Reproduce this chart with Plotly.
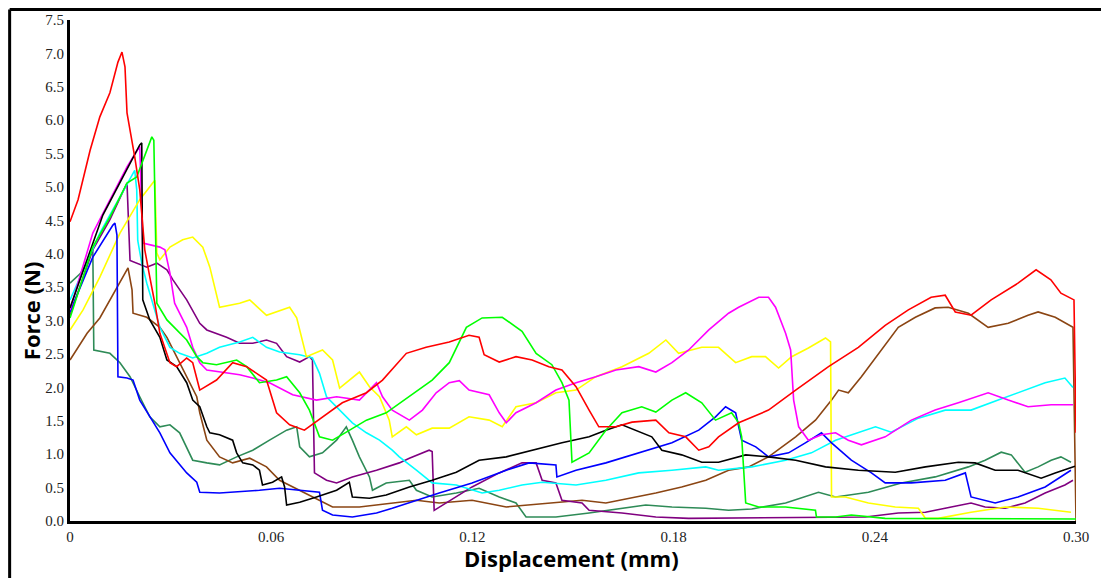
import plotly.graph_objects as go

# Force-displacement curves for ten specimens (displacement in mm, force in N)
RED_X = [0.000, 0.0024, 0.0060, 0.0089, 0.0119, 0.0143, 0.0155, 0.0164, 0.0170, 0.0185, 0.0193, 0.0208,
         0.0223, 0.0238, 0.0253, 0.0268, 0.0298, 0.0318, 0.0348, 0.0366, 0.0387, 0.0437, 0.0485, 0.0527,
         0.0586, 0.0616, 0.0655, 0.0699, 0.0753, 0.0812, 0.0884, 0.0932, 0.1003, 0.1062, 0.1131, 0.1190,
         0.1220, 0.1235, 0.1280, 0.1330, 0.1378, 0.1428, 0.1467, 0.1509, 0.1548, 0.1577, 0.1628, 0.1676,
         0.1747, 0.1786, 0.1836, 0.1875, 0.1905, 0.1934, 0.1994, 0.2083, 0.2164, 0.2262, 0.2351, 0.2431,
         0.2500, 0.2568, 0.2610, 0.2640, 0.2687, 0.2747, 0.2827, 0.2881, 0.2925, 0.2955, 0.2994, 0.3000]
RED_Y = [4.48, 4.81, 5.55, 6.05, 6.41, 6.87, 7.02, 6.80, 6.11, 5.70, 5.45, 4.96,
         4.06, 3.65, 3.26, 2.81, 2.37, 2.31, 2.44, 2.37, 1.96, 2.11, 2.37, 2.31,
         2.11, 1.62, 1.44, 1.36, 1.56, 1.77, 1.92, 2.11, 2.51, 2.60, 2.68, 2.78,
         2.75, 2.49, 2.38, 2.46, 2.41, 2.31, 2.26, 2.01, 1.66, 1.41, 1.41, 1.48,
         1.51, 1.32, 1.26, 1.06, 1.11, 1.26, 1.47, 1.66, 1.96, 2.31, 2.60, 2.93,
         3.16, 3.35, 3.38, 3.13, 3.08, 3.31, 3.56, 3.76, 3.61, 3.41, 3.31, 1.32]

GREEN_X = [0.000, 0.0068, 0.0119, 0.0170, 0.0199, 0.0244, 0.0250, 0.0259, 0.0289, 0.0348, 0.0378, 0.0396,
           0.0437, 0.0497, 0.0527, 0.0565, 0.0616, 0.0646, 0.0685, 0.0714, 0.0744, 0.0783, 0.0824, 0.0884,
           0.0943, 0.1012, 0.1080, 0.1131, 0.1182, 0.1229, 0.1289, 0.1348, 0.1390, 0.1437, 0.1467, 0.1488,
           0.1497, 0.1548, 0.1598, 0.1646, 0.1705, 0.1747, 0.1795, 0.1836, 0.1884, 0.1925, 0.1973, 0.1994,
           0.2003, 0.2015, 0.2054, 0.2134, 0.2223, 0.2226, 0.2283, 0.2330, 0.2431, 0.3000]
GREEN_Y = [3.04, 4.10, 4.55, 5.06, 5.15, 5.75, 5.70, 3.26, 3.01, 2.71, 2.46, 2.37,
           2.34, 2.41, 2.31, 2.07, 2.11, 2.16, 1.92, 1.66, 1.26, 1.21, 1.33, 1.51,
           1.62, 1.86, 2.11, 2.37, 2.90, 3.04, 3.05, 2.84, 2.51, 2.34, 2.07, 1.81,
           0.88, 1.02, 1.36, 1.62, 1.71, 1.63, 1.81, 1.92, 1.77, 1.51, 1.62, 1.47,
           1.26, 0.27, 0.21, 0.21, 0.16, 0.06, 0.06, 0.09, 0.04, 0.03]

BLACK_X = [0.000, 0.0098, 0.0208, 0.0214, 0.0217, 0.0238, 0.0268, 0.0289, 0.0318, 0.0348, 0.0366, 0.0387,
           0.0408, 0.0417, 0.0446, 0.0485, 0.0497, 0.0515, 0.0545, 0.0565, 0.0574, 0.0604, 0.0631, 0.0640,
           0.0646, 0.0685, 0.0735, 0.0795, 0.0833, 0.0842, 0.0893, 0.0943, 0.1012, 0.1080, 0.1152, 0.1220,
           0.1301, 0.1378, 0.1467, 0.1548, 0.1598, 0.1646, 0.1687, 0.1735, 0.1765, 0.1824, 0.1884, 0.1934,
           0.2015, 0.2083, 0.2164, 0.2253, 0.2351, 0.2461, 0.2551, 0.2649, 0.2699, 0.2759, 0.2827, 0.2896,
           0.2938, 0.2997]
BLACK_Y = [3.19, 4.58, 5.63, 5.66, 3.31, 3.01, 2.75, 2.41, 2.31, 2.07, 1.81, 1.71,
           1.41, 1.32, 1.29, 1.21, 1.02, 0.87, 0.84, 0.76, 0.54, 0.58, 0.66, 0.51,
           0.24, 0.28, 0.36, 0.46, 0.58, 0.36, 0.34, 0.39, 0.51, 0.61, 0.73, 0.91,
           0.96, 1.06, 1.17, 1.26, 1.36, 1.44, 1.36, 1.26, 1.06, 0.99, 0.88, 0.88,
           0.99, 0.96, 0.91, 0.81, 0.76, 0.73, 0.81, 0.88, 0.87, 0.76, 0.76, 0.64,
           0.72, 0.82]

MAGENTA_X = [0.000, 0.0068, 0.0170, 0.0202, 0.0208, 0.0217, 0.0247, 0.0268, 0.0283, 0.0298, 0.0312, 0.0348,
             0.0366, 0.0387, 0.0408, 0.0446, 0.0506, 0.0545, 0.0595, 0.0664, 0.0735, 0.0795, 0.0863, 0.0914,
             0.0932, 0.0961, 0.1012, 0.1051, 0.1092, 0.1131, 0.1161, 0.1190, 0.1250, 0.1280, 0.1301, 0.1330,
             0.1390, 0.1449, 0.1509, 0.1568, 0.1628, 0.1696, 0.1747, 0.1795, 0.1845, 0.1905, 0.1964, 0.1994,
             0.2054, 0.2083, 0.2104, 0.2134, 0.2149, 0.2158, 0.2173, 0.2202, 0.2241, 0.2283, 0.2321, 0.2360,
             0.2431, 0.2509, 0.2580, 0.2649, 0.2738, 0.2798, 0.2857, 0.2926, 0.2991]
MAGENTA_Y = [3.16, 4.31, 5.30, 5.58, 5.61, 4.16, 4.13, 4.10, 4.06, 3.71, 3.26, 2.90,
             2.60, 2.37, 2.26, 2.23, 2.19, 2.14, 2.07, 1.89, 1.81, 1.86, 1.81, 2.07,
             1.86, 1.66, 1.51, 1.66, 1.92, 2.07, 2.10, 1.96, 1.89, 1.62, 1.47, 1.62,
             1.77, 1.96, 2.07, 2.16, 2.26, 2.31, 2.23, 2.37, 2.56, 2.86, 3.11, 3.20,
             3.35, 3.35, 3.20, 2.81, 2.56, 1.81, 1.41, 1.21, 1.29, 1.32, 1.21, 1.14,
             1.26, 1.51, 1.66, 1.77, 1.92, 1.81, 1.71, 1.74, 1.74]

BLUE_X = [0.000, 0.0068, 0.0128, 0.0134, 0.0140, 0.0143, 0.0170, 0.0188, 0.0208, 0.0238, 0.0268, 0.0298,
          0.0348, 0.0378, 0.0387, 0.0446, 0.0485, 0.0565, 0.0625, 0.0685, 0.0744, 0.0753, 0.0783, 0.0842,
          0.0914, 0.0961, 0.1033, 0.1101, 0.1199, 0.1301, 0.1369, 0.1449, 0.1452, 0.1509, 0.1598, 0.1696,
          0.1795, 0.1875, 0.1925, 0.1955, 0.1985, 0.2003, 0.2045, 0.2083, 0.2143, 0.2193, 0.2241, 0.2271,
          0.2330, 0.2390, 0.2431, 0.2509, 0.2610, 0.2670, 0.2687, 0.2759, 0.2827, 0.2908, 0.2985]
BLUE_Y = [3.13, 3.95, 4.43, 4.46, 4.28, 2.16, 2.14, 2.11, 1.81, 1.56, 1.32, 1.02,
          0.72, 0.58, 0.43, 0.42, 0.43, 0.46, 0.49, 0.46, 0.43, 0.16, 0.09, 0.06,
          0.12, 0.19, 0.31, 0.42, 0.57, 0.76, 0.87, 0.84, 0.66, 0.76, 0.87, 1.02,
          1.17, 1.36, 1.56, 1.71, 1.62, 1.21, 1.11, 0.96, 1.02, 1.17, 1.32, 1.17,
          0.91, 0.72, 0.57, 0.57, 0.61, 0.72, 0.36, 0.27, 0.36, 0.51, 0.76]

YELLOW_X = [0.000, 0.0039, 0.0089, 0.0149, 0.0208, 0.0238, 0.0253, 0.0259, 0.0268, 0.0298, 0.0336, 0.0366,
            0.0396, 0.0417, 0.0446, 0.0506, 0.0536, 0.0586, 0.0655, 0.0676, 0.0705, 0.0753, 0.0783, 0.0804,
            0.0863, 0.0893, 0.0923, 0.0952, 0.0961, 0.1003, 0.1033, 0.1080, 0.1131, 0.1190, 0.1250, 0.1289,
            0.1330, 0.1390, 0.1449, 0.1509, 0.1568, 0.1646, 0.1726, 0.1777, 0.1815, 0.1884, 0.1934, 0.1985,
            0.2033, 0.2074, 0.2113, 0.2152, 0.2202, 0.2253, 0.2268, 0.2271, 0.2312, 0.2381, 0.2461, 0.2530,
            0.2551, 0.2589, 0.2687, 0.2789, 0.2887, 0.2985]
YELLOW_Y = [2.86, 3.16, 3.65, 4.31, 4.81, 5.00, 5.10, 4.01, 3.91, 4.10, 4.21, 4.25,
            4.10, 3.80, 3.20, 3.26, 3.31, 3.08, 3.20, 3.04, 2.46, 2.56, 2.41, 1.99,
            2.23, 2.01, 1.86, 1.51, 1.26, 1.41, 1.29, 1.39, 1.39, 1.56, 1.51, 1.41,
            1.71, 1.77, 1.92, 1.96, 2.16, 2.31, 2.51, 2.71, 2.51, 2.60, 2.60, 2.37,
            2.46, 2.46, 2.29, 2.46, 2.59, 2.74, 2.68, 0.36, 0.36, 0.27, 0.21, 0.19,
            0.04, 0.04, 0.13, 0.21, 0.19, 0.13]

CYAN_X = [0.000, 0.0089, 0.0193, 0.0199, 0.0202, 0.0214, 0.0229, 0.0247, 0.0268, 0.0298, 0.0327, 0.0366,
          0.0408, 0.0446, 0.0506, 0.0545, 0.0586, 0.0625, 0.0685, 0.0723, 0.0744, 0.0765, 0.0804, 0.0842,
          0.0884, 0.0923, 0.0961, 0.0982, 0.1033, 0.1080, 0.1152, 0.1229, 0.1280, 0.1348, 0.1408, 0.1509,
          0.1598, 0.1696, 0.1795, 0.1896, 0.1934, 0.2033, 0.2134, 0.2211, 0.2283, 0.2351, 0.2402, 0.2449,
          0.2530, 0.2610, 0.2687, 0.2768, 0.2848, 0.2908, 0.2967, 0.2991]
CYAN_Y = [3.31, 4.31, 5.25, 4.96, 4.20, 3.86, 3.56, 3.26, 2.90, 2.60, 2.51, 2.44,
          2.51, 2.60, 2.68, 2.75, 2.60, 2.53, 2.49, 2.44, 2.21, 1.86, 1.66, 1.47,
          1.32, 1.21, 1.06, 0.96, 0.76, 0.57, 0.54, 0.42, 0.46, 0.54, 0.58, 0.54,
          0.61, 0.72, 0.76, 0.81, 0.76, 0.81, 0.91, 1.02, 1.21, 1.33, 1.41, 1.33,
          1.54, 1.66, 1.66, 1.81, 1.96, 2.07, 2.14, 2.00]

PURPLE_X = [0.000, 0.0068, 0.0119, 0.0170, 0.0179, 0.0199, 0.0229, 0.0259, 0.0289, 0.0307, 0.0336, 0.0348,
            0.0387, 0.0408, 0.0467, 0.0506, 0.0545, 0.0586, 0.0616, 0.0646, 0.0685, 0.0714, 0.0723, 0.0729,
            0.0765, 0.0795, 0.0842, 0.0914, 0.0982, 0.1012, 0.1071, 0.1080, 0.1086, 0.1122, 0.1199, 0.1280,
            0.1348, 0.1390, 0.1408, 0.1449, 0.1467, 0.1527, 0.1548, 0.1646, 0.1747, 0.1845, 0.2372, 0.2470,
            0.2551, 0.2628, 0.2687, 0.2729, 0.2789, 0.2848, 0.2908, 0.2967, 0.2991]
PURPLE_Y = [3.08, 4.06, 4.51, 5.06, 3.90, 3.86, 3.80, 3.86, 3.76, 3.61, 3.41, 3.31,
            2.96, 2.86, 2.75, 2.66, 2.66, 2.71, 2.66, 2.46, 2.38, 2.46, 2.41, 0.72,
            0.61, 0.57, 0.66, 0.76, 0.87, 0.94, 1.06, 1.04, 0.16, 0.27, 0.51, 0.72,
            0.87, 0.87, 0.61, 0.57, 0.31, 0.27, 0.16, 0.12, 0.06, 0.04, 0.06, 0.12,
            0.13, 0.21, 0.27, 0.21, 0.19, 0.27, 0.42, 0.54, 0.61]

BROWN_X = [0.000, 0.0051, 0.0089, 0.0119, 0.0149, 0.0173, 0.0185, 0.0188, 0.0229, 0.0268, 0.0289, 0.0318,
           0.0348, 0.0378, 0.0387, 0.0408, 0.0446, 0.0485, 0.0536, 0.0586, 0.0625, 0.0685, 0.0744, 0.0783,
           0.0863, 0.0961, 0.1033, 0.1101, 0.1199, 0.1301, 0.1449, 0.1527, 0.1598, 0.1667, 0.1747, 0.1824,
           0.1896, 0.1964, 0.2024, 0.2083, 0.2164, 0.2223, 0.2271, 0.2292, 0.2321, 0.2360, 0.2420, 0.2470,
           0.2521, 0.2580, 0.2619, 0.2679, 0.2738, 0.2798, 0.2857, 0.2887, 0.2938, 0.2991, 0.3000]
BROWN_Y = [2.41, 2.81, 3.04, 3.31, 3.56, 3.79, 3.46, 3.11, 3.05, 2.90, 2.75, 2.46,
           2.16, 1.86, 1.62, 1.21, 0.96, 0.87, 0.94, 0.81, 0.61, 0.46, 0.31, 0.21,
           0.21, 0.27, 0.31, 0.27, 0.31, 0.21, 0.27, 0.31, 0.27, 0.34, 0.42, 0.51,
           0.61, 0.76, 0.81, 0.96, 1.26, 1.51, 1.81, 1.96, 1.92, 2.16, 2.56, 2.90,
           3.05, 3.19, 3.20, 3.11, 2.90, 2.96, 3.08, 3.13, 3.05, 2.90, 0.00]

SEAGREEN_X = [0.000, 0.0030, 0.0051, 0.0068, 0.0071, 0.0119, 0.0149, 0.0179, 0.0208, 0.0238, 0.0268, 0.0298,
              0.0327, 0.0348, 0.0366, 0.0408, 0.0446, 0.0497, 0.0545, 0.0595, 0.0646, 0.0676, 0.0685, 0.0714,
              0.0753, 0.0795, 0.0824, 0.0842, 0.0863, 0.0893, 0.0902, 0.0943, 0.1012, 0.1033, 0.1080, 0.1152,
              0.1220, 0.1280, 0.1330, 0.1360, 0.1449, 0.1548, 0.1646, 0.1717, 0.1795, 0.1896, 0.1964, 0.2033,
              0.2134, 0.2193, 0.2232, 0.2283, 0.2381, 0.2479, 0.2580, 0.2679, 0.2729, 0.2777, 0.2807, 0.2848,
              0.2887, 0.2926, 0.2955, 0.2985]
SEAGREEN_Y = [3.56, 3.70, 3.86, 4.09, 2.56, 2.51, 2.37, 2.16, 1.86, 1.56, 1.41, 1.44,
              1.32, 1.11, 0.91, 0.87, 0.84, 0.96, 1.06, 1.21, 1.36, 1.41, 1.11, 0.96,
              1.02, 1.21, 1.41, 1.21, 0.96, 0.66, 0.46, 0.57, 0.61, 0.46, 0.36, 0.42,
              0.49, 0.36, 0.27, 0.06, 0.06, 0.12, 0.19, 0.24, 0.21, 0.19, 0.16, 0.18,
              0.27, 0.36, 0.43, 0.36, 0.43, 0.57, 0.66, 0.81, 0.91, 1.03, 0.99, 0.73,
              0.81, 0.91, 0.96, 0.88]

X_TICKS = [0.0, 0.06, 0.12, 0.18, 0.24, 0.30]
X_TICK_TEXT = ["0", "0.06", "0.12", "0.18", "0.24", "0.30"]
Y_TICKS = [0.0, 0.5, 1.0, 1.5, 2.0, 2.5, 3.0, 3.5, 4.0, 4.5, 5.0, 5.5, 6.0, 6.5, 7.0, 7.5]

series = [
    (SEAGREEN_X, SEAGREEN_Y, "#2e8b57"),
    (BROWN_X, BROWN_Y, "#8b4513"),
    (PURPLE_X, PURPLE_Y, "#800080"),
    (CYAN_X, CYAN_Y, "#00ffff"),
    (YELLOW_X, YELLOW_Y, "#ffff00"),
    (BLUE_X, BLUE_Y, "#0000ff"),
    (MAGENTA_X, MAGENTA_Y, "#ff00ff"),
    (BLACK_X, BLACK_Y, "#000000"),
    (GREEN_X, GREEN_Y, "#00ff00"),
    (RED_X, RED_Y, "#ff0000"),
]

fig = go.Figure()
for xs, ys, color in series:
    fig.add_trace(go.Scatter(x=xs, y=ys, mode="lines",
                             line=dict(color=color, width=1.6),
                             showlegend=False, hoverinfo="skip"))

tick_font = dict(family="Liberation Serif", size=15, color="#222222")

fig.update_xaxes(range=[0, 0.30], tickvals=X_TICKS, ticktext=X_TICK_TEXT,
                 showgrid=False, zeroline=False, showline=True,
                 linecolor="black", linewidth=3, ticks="", tickfont=tick_font)
fig.update_yaxes(range=[0, 7.5], tickvals=Y_TICKS, tickformat=".1f",
                 showgrid=False, zeroline=False, showline=True,
                 linecolor="black", linewidth=3, ticks="", tickfont=tick_font)

fig.update_layout(
    width=1101, height=578,
    margin=dict(l=70, r=23, t=20, b=57),
    paper_bgcolor="white", plot_bgcolor="white",
    annotations=[
        dict(text="<b>Displacement (mm)</b>", xref="paper", yref="paper",
             x=0.499, y=-0.074, xanchor="center", yanchor="middle", showarrow=False,
             font=dict(family="Open Sans", size=22, color="black")),
        dict(text="<b>Force (N)</b>", xref="paper", yref="paper",
             x=-0.0387, y=0.419, xanchor="center", yanchor="middle", showarrow=False,
             textangle=-90, font=dict(family="Open Sans", size=22, color="black")),
    ],
    shapes=[
        dict(type="line", xref="paper", yref="paper", x0=-0.060, x1=1.03, y0=1.021, y1=1.021,
             line=dict(color="black", width=3)),
        dict(type="line", xref="paper", yref="paper", x0=-0.060, x1=-0.060, y0=1.021, y1=-0.13,
             line=dict(color="black", width=3)),
    ],
)

fig.write_html("out.html")
